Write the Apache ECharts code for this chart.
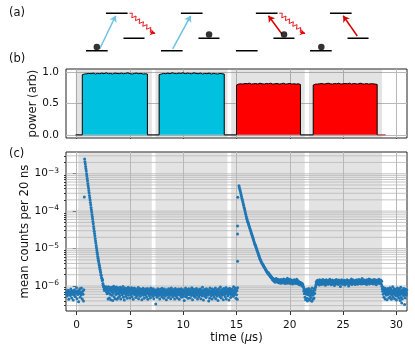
<!DOCTYPE html>
<html><head><meta charset="utf-8">
<style>html,body{margin:0;padding:0;background:#fff}#c{width:415px;height:346px}</style>
<script src="https://cdn.jsdelivr.net/npm/echarts@6/dist/echarts.min.js"></script>
</head><body><div id="c"></div>
<script>
const FONT='"DejaVu Sans"';
// panel (a): schematic level diagram, in level-width / level-height units
const diagramOffsets=[0,3.46,6.92,10.34];
const levelSpans=[[0,1,0],[0.92,1.92,3],[1.73,2.7,1]];
const dots=[[0.5,0.3],[5.68,1.3],[9.14,1.3],[10.86,0.3]];
const blueArrows=[[[0.63,0.14],[1.37,2.8]],[[4.0,0.14],[4.83,2.8]]];
const redArrows=[[[9.05,1.32],[8.42,2.8]],[[12.52,1.18],[11.87,2.8]]];
const wavePath=[[2.0,3.0],[2.141,3.012],[2.114,2.643],[2.311,2.782],[2.284,2.413],[2.481,2.552],[2.454,2.183],[2.651,2.322],[2.624,1.953],[2.821,2.092],[2.794,1.723],[2.991,1.862],[2.964,1.493],[3.19,1.39]];
const waveOffsets=[0,6.92];
// panel (b)
const xTicks=[0,5,10,15,20,25,30];
const powerTicks=[0,0.5,1];
const pulseBlue1=[.955,.965,.97,.975,.97,.98,.965,.975,.97,.98,.97,.985,.97,.975,.965,.98,.975,.97,.98,.97,.975,.985,.97,.965,.975,.98,.97,.975,.965,.97,.965];
const pulseBlue2=[.955,.965,.975,.97,.98,.97,.985,.975,.97,.98,.975,.985,.97,.98,.975,.97,.985,.975,.97,.98,.965,.975,.97,.98,.965,.975,.97,.965,.975,.97,.965];
const pulseRed1=[.79,.805,.81,.805,.815,.81,.82,.805,.81,.815,.805,.82,.81,.805,.815,.81,.82,.805,.81,.815,.805,.81,.82,.805,.81,.815,.805,.81,.805,.81,.8];
const pulseRed2=[.79,.805,.805,.81,.815,.805,.81,.82,.81,.805,.815,.81,.82,.805,.81,.815,.81,.82,.805,.815,.81,.805,.82,.81,.805,.815,.805,.81,.81,.805,.8];
const pulseWindows=[[0.53,6.64],[7.74,13.85],[15.0,21.0],[22.2,28.2]];
const offSegments=[[-0.1,0.53],[6.64,7.74],[13.85,15.0],[21.0,22.2]];
const offTail=[28.2,29.0];
const bandsB=[[-0.08,7.05],[7.4,14.15],[14.5,21.4],[21.8,28.65]];
const bandsC=[[0.15,7.05],[7.4,14.15],[14.5,21.4],[21.8,28.65]];
// panel (c): log10 values along the decays, background in units of 1e-8 counts
const decayA=[-2.61,-2.68,-2.74,-2.81,-2.87,-2.93,-3.00,-3.06,-3.13,-3.19,-3.26,-3.32,-3.38,-3.45,-3.51,-3.58,-3.64,-3.70,-3.77,-3.83,-3.90,-3.96,-4.02,-4.09,-4.15,-4.21,-4.28,-4.34,-4.41,-4.47,-4.54,-4.60,-4.66,-4.73,-4.79,-4.85,-4.92,-4.98,-5.04,-5.10,-5.15,-5.21,-5.26,-5.31,-5.36,-5.41,-5.45,-5.50,-5.55,-5.60,-5.64,-5.70,-5.72,-5.78,-5.80,-5.85,-5.84,-5.93,-5.98,-6.02,-6.00,-6.08,-6.12,-6.05];
const decayB=[-3.32,-3.37,-3.42,-3.46,-3.51,-3.56,-3.61,-3.66,-3.70,-3.75,-3.80,-3.85,-3.90,-3.94,-3.99,-4.04,-4.09,-4.14,-4.19,-4.23,-4.27,-4.30,-4.34,-4.37,-4.41,-4.45,-4.48,-4.52,-4.55,-4.59,-4.63,-4.66,-4.70,-4.74,-4.77,-4.81,-4.85,-4.89,-4.90,-4.94,-4.97,-5.01,-5.04,-5.07,-5.11,-5.14,-5.18,-5.21,-5.25,-5.28,-5.30,-5.33,-5.35,-5.38,-5.40,-5.42,-5.44,-5.46,-5.48,-5.50,-5.52,-5.54,-5.56,-5.58,-5.60,-5.62,-5.63,-5.66,-5.64,-5.69,-5.67,-5.72,-5.70,-5.75,-5.73,-5.78,-5.76,-5.80,-5.83,-5.79,-5.85,-5.81,-5.87,-5.84,-5.90,-5.86,-5.82];
const bgA=[62,71,54,66,78,58,44,69,73,61,56,83,64,48,75,60,68,42,72,57,80,63,52,70,65,90,46,74,59,67,38,76,62,85,50,69,58,88,64,45,73,60,40,79];
const bgB=[92,78,96,70,88,62,84,74,45,95,66,87,48,79,60,91,43,73,85,57,93,68,41,81,64,98,52,76,89,46,71,83,59,94,67,44,80,62,90,49,
75,63,86,54,70,92,45,78,66,84,58,73,61,97,50,69,82,42,76,64,88,53,72,60,85,67,47,79,63,93,57,74,68,86,48,70,81,59,65,90,
52,77,62,84,44,71,66,88,58,75,61,83,49,69,64,80,55,72,60,91,46,67,78,63,85,53,74,59,70,82,43,66,76,61,87,57,68,47,79,64,
73,58,83,62,51,71,65,86,44,77,60,69,81,55,74,63,48,89,67,59,78,61,72,53,84,64,46,75,68,57,80,62,33,70,58,76,50,66,85,60,
72,56,79,63,45,68,82,59,74,61,52,87,65,71,57,77,47,69,83,60,64,54,75,67,43,80,62,58,73,66,49,84,61,70,56,78,64,46,72,88,
59,67,75,52,81,62,69,57,76,45,65,86,60,73,53,68,79,48,63,71,58,83,66,44,74,61,77,55,69,85,50,64,72,59,80,62,53,70,41,78,
66,60,88,52,73,63,57,81,68,47,75,61,84,58,70,65,48,79,62,72,56,90,64,43,76,59,68,82,54,71,63,50,77,66,60,86,57,74,45,69,
80,61,52,73,65,58,83,67,46,78,62,70,55,92,60,75,42,68,64,81,53,72,59,77,49,85,66,61,70,57,79,63,40,74,67,47,88,60,71,55,
76,64,45,83,58,69,62,78,51,73,66,59,89,46,72,61,80,54,68,75,41,65,84,58,70,63,52,94,60,77,48,67,81,57,73,62,43,86,64,71,
59,78,52,66,91,45,74,62,69,82,55,63,76,42,70,87,60,67,49,79,65,72,57,83,61,74,53,96,68,59,77,63,88,70,47,84,58,75,44,90];
const bgC=[158,142,136,149,128,152,133,145,122,138,130,147,125,140,118,135,150,127,143,120,132,146,124,137,129,155,121,141,126,134,116,148,131,139,123,144,128,160,119,136,127,142,122,133,151,125,138,117,130,146,124,135,128,140,113,132,143,121,136,126,148,119,129,137,123,141,116,131,152,125,134,120,139,127,112,130,118,126,108,122,110,124,106,119,114,104,117,100,109,98];
const bgD=[92,74,84,62,78,50,68,43,72,60,82,47,66,40,76,58,63,86,45,70,56,42,80,61,49,74,65,39,88,57,69,44,75,60,48,83,64,78,90,96];
const bgE=[108,128,115,134,120,142,112,125,138,118,130,106,146,122,133,116,127,140,110,124,136,119,150,126,113,131,122,143,117,129,104,137,121,148,125,114,133,119,128,141,111,126,135,120,152,116,130,123,139,108,127,118,145,132,115,124,136,121,129,103,142,119,126,134,113,149,122,131,117,138,125,110,128,144,120,133,116,127,97,136,123,118,146,130,112,125,139,121,134,115,128,142,106,124,132,119,137,126,113,148,122,129,117,135,100,127,141,120,131,114,125,138,118,155,123,110,133,126,119,144,128,116,136,122,130,109,140,125,134,118,147,121,127,112,137,131,124,150,116,129,135,120,143,126,113,132,119,158,128,123,138,115,134,127,145,121,130,117,141,125,136,110,148,129,122,133,118,140,126,153,114,131,124,137,146,120,128,135,116,143,132,125,139,113,150,127,119,134,122,147,129,136,108,141,124,131,118,144,128,135,121,152,126,116,138,130,123,142,112,133];
const bgF=[98,84,72,92,60,80,50,76,66,88,45,70,62,82,57,74,43,68,86,59,73,63,48,79,65,90,52,71,61,83,44,75,58,69,95,50,66,77,60,85,46,72,64,56,81,67,42,74,62,88,53,70,59,78,47,65,84,57,73,61,92,49,68,76,63,45,80,58,71,55,86,66,60,75,48,82,69,57,64,78];
const outliersC=[[0.72,2.4e-4],[15.12,2.35e-4],[15.1,4e-5],[15.1,2.45e-5],[15.1,4.6e-6],[30.36,4.1e-7],[30.5,3.5e-7],[30.77,3.2e-7]];
const segmentWindows={bgA:[-0.97,0.68],decayA:[0.75,2.64],bgB:[2.7,15.1],decayB:[15.23,18.7],bgC:[18.72,21.25],bgD:[21.28,22.42],bgE:[22.45,28.62],bgF:[28.65,30.98]};
const yMajor=[1e-6,1e-5,1e-4,1e-3];
const yMinor=[3e-7,4e-7,5e-7,6e-7,7e-7,8e-7,9e-7,2e-6,3e-6,4e-6,5e-6,6e-6,7e-6,8e-6,9e-6,2e-5,3e-5,4e-5,5e-5,6e-5,7e-5,8e-5,9e-5,2e-4,3e-4,4e-4,5e-4,6e-4,7e-4,8e-4,9e-4,2e-3,3e-3];
const xExtent=[-1,31];

const along=(w,vals,f)=>vals.map((v,i)=>[w[0]+(w[1]-w[0])*i/(vals.length-1),f(v)]);
const fromLog=v=>Math.pow(10,v), fromBg=v=>v*1e-8;
const counts=[].concat(
 along(segmentWindows.bgA,bgA,fromBg),along(segmentWindows.decayA,decayA,fromLog),
 along(segmentWindows.bgB,bgB,fromBg),along(segmentWindows.decayB,decayB,fromLog),
 along(segmentWindows.bgC,bgC,fromBg),along(segmentWindows.bgD,bgD,fromBg),
 along(segmentWindows.bgE,bgE,fromBg),along(segmentWindows.bgF,bgF,fromBg),outliersC);

const levelLine=[];
diagramOffsets.forEach(o=>levelSpans.forEach(l=>{levelLine.push([o+l[0],l[2]],[o+l[1],l[2]],[null,null]);}));
const pulseSeries=(win,vals,col)=>({type:'line',xAxisIndex:1,yAxisIndex:1,showSymbol:false,symbol:'none',z:4,
 data:[[win[0],0]].concat(along(win,vals,v=>v),[[win[1],0]]),
 lineStyle:{color:'#000',width:1},areaStyle:{color:col,opacity:1}});
const offLine=[];
offSegments.forEach(s=>offLine.push([s[0],0],[s[1],0],[null,null]));
const arrowData=(list,c)=>list.map(a=>[{coord:a[0],lineStyle:{color:c,width:1.5,type:'solid'}},{coord:a[1]}]);
const waveEnds=waveOffsets.map(o=>{const n=wavePath.length;return [{coord:[wavePath[n-2][0]+o,wavePath[n-2][1]],lineStyle:{color:'#e8000b',width:1,type:'solid'}},{coord:[wavePath[n-1][0]+o,wavePath[n-1][1]]}];});
const waveLine=[];
waveOffsets.forEach(o=>{wavePath.forEach(p=>waveLine.push([p[0]+o,p[1]]));waveLine.push([null,null]);});
const gridStyle={color:'#b8b8b8',width:1,type:'solid'};
const tickStyle={color:'#333',width:1};
const txt={color:'#111',fontFamily:FONT,fontSize:10.5};
const xAx=(gi,labels)=>({type:'value',gridIndex:gi,min:xExtent[0],max:xExtent[1],
 axisLine:{show:false},
 axisTick:{show:true,length:4,lineStyle:tickStyle,customValues:xTicks},
 axisLabel:Object.assign({show:labels,margin:9,customValues:xTicks},txt),
 splitLine:{show:false}});
const vGrid=xTicks.map(v=>({xAxis:v}));
const bandData=b=>b.map(r=>[{xAxis:r[0]},{xAxis:r[1]}]);
const hLines=[];
yMajor.concat(yMinor).forEach(v=>hLines.push([xExtent[0],v],[xExtent[1],v],[null,null]));
const titleStyle={fontFamily:FONT,fontSize:11.5,fontWeight:'normal',color:'#111'};
const nameTxt={fontFamily:FONT,fontSize:11.6,color:'#111'};
const option={animation:false,backgroundColor:'#fff',
 title:[
  {text:'(a)',left:4,top:2,textStyle:titleStyle},
  {text:'(b)',left:4,top:48,textStyle:titleStyle},
  {text:'(c)',left:4,top:143,textStyle:titleStyle}],
 grid:[
  {left:86,width:325,top:13.3,height:37.4,show:false},
  {left:66,right:8,top:69,height:69,show:true,borderColor:'#222',borderWidth:1,backgroundColor:'transparent'},
  {left:66,right:8,top:152,height:159,show:true,borderColor:'#222',borderWidth:1,backgroundColor:'transparent'}],
 xAxis:[
  {type:'value',gridIndex:0,min:0,max:15,show:false},
  xAx(1,false),
  Object.assign(xAx(2,true),{name:'{n|time (}{i|\u03bc}{n|s)}',nameLocation:'middle',nameMoveOverlap:false,nameGap:21,nameTextStyle:{rich:{n:nameTxt,i:Object.assign({fontStyle:'italic'},nameTxt)}}})],
 yAxis:[
  {type:'value',gridIndex:0,min:0,max:3,show:false},
  {type:'value',gridIndex:1,min:-0.05,max:1.045,axisLine:{show:false},
   axisTick:{show:true,length:4,lineStyle:tickStyle,customValues:powerTicks},
   axisLabel:Object.assign({margin:7,customValues:powerTicks,formatter:v=>v.toFixed(1)},txt),
   splitLine:{show:false},
   name:'power (arb)',nameLocation:'middle',nameMoveOverlap:false,nameGap:27,nameRotate:90,nameTextStyle:nameTxt},
  {type:'log',gridIndex:2,logBase:10,min:2.15e-7,max:3.8e-3,axisLine:{show:false},
   axisTick:{show:true,length:4,lineStyle:tickStyle,customValues:yMajor},
   axisLabel:{margin:7,customValues:yMajor,color:'#111',fontFamily:FONT,fontSize:10.5,
     formatter:v=>'{b|10}{s|\u2212'+Math.abs(Math.round(Math.log10(v)))+'}',
     rich:{b:{fontFamily:FONT,fontSize:10.5,color:'#111'},s:{fontFamily:FONT,fontSize:7.5,color:'#111',padding:[0,0,6,0]}}},
   splitLine:{show:false},
   name:'mean counts per 20 ns',nameLocation:'middle',nameMoveOverlap:false,nameGap:35,nameRotate:90,nameTextStyle:nameTxt},
  {type:'log',gridIndex:2,logBase:10,position:'left',min:2.15e-7,max:3.8e-3,axisLine:{show:false,onZero:false},
   axisTick:{show:true,length:2,lineStyle:tickStyle,customValues:yMinor},
   axisLabel:{show:false},splitLine:{show:false}}],
 series:[
  {type:'line',xAxisIndex:0,yAxisIndex:0,data:levelLine,symbol:'none',connectNulls:false,clip:false,lineStyle:{color:'#000',width:1.5},z:2},
  {type:'line',xAxisIndex:0,yAxisIndex:0,data:waveLine,symbol:'none',connectNulls:false,clip:false,lineStyle:{color:'#e8000b',width:0.9},z:2,
   markLine:{silent:true,symbol:['none','arrow'],symbolSize:5,label:{show:false},data:waveEnds}},
  {type:'scatter',xAxisIndex:0,yAxisIndex:0,data:dots,symbolSize:6.5,clip:false,itemStyle:{color:'#000'},z:3,
   markLine:{silent:true,symbol:['none','arrow'],symbolSize:6,label:{show:false},z:2,
    data:arrowData(blueArrows,'#6ec1e4').concat(arrowData(redArrows,'#d80000'))}},
  {type:'line',xAxisIndex:1,yAxisIndex:1,data:offLine,symbol:'none',connectNulls:false,z:3,lineStyle:{color:'#000',width:1},
   markLine:{silent:true,symbol:'none',label:{show:false},lineStyle:gridStyle,z:1,data:vGrid.concat(powerTicks.map(v=>({yAxis:v})))},
   markArea:{silent:true,itemStyle:{color:'rgba(128,128,128,0.22)'},z:2,data:bandData(bandsB)}},
  {type:'line',xAxisIndex:1,yAxisIndex:1,data:offTail.map(t=>[t,0]),symbol:'none',z:3,lineStyle:{color:'#b03030',width:1}},
  pulseSeries(pulseWindows[0],pulseBlue1,'#00c2e0'),
  pulseSeries(pulseWindows[1],pulseBlue2,'#00c2e0'),
  pulseSeries(pulseWindows[2],pulseRed1,'#ff0000'),
  pulseSeries(pulseWindows[3],pulseRed2,'#ff0000'),
  {type:'line',xAxisIndex:2,yAxisIndex:2,data:hLines,symbol:'none',connectNulls:false,z:2,lineStyle:{color:'#b8b8b8',width:0.8}},
  {type:'scatter',xAxisIndex:2,yAxisIndex:2,data:counts,symbolSize:3,itemStyle:{color:'#1f77b4',opacity:1},z:5,
   markLine:{silent:true,symbol:'none',label:{show:false},lineStyle:gridStyle,z:1,animation:false,data:vGrid},
   markArea:{silent:true,itemStyle:{color:'rgba(128,128,128,0.22)'},z:1,data:bandData(bandsC)}}
 ]};
const chart=echarts.init(document.getElementById('c'),null,{renderer:'canvas'});
chart.setOption(option);
</script></body></html>
